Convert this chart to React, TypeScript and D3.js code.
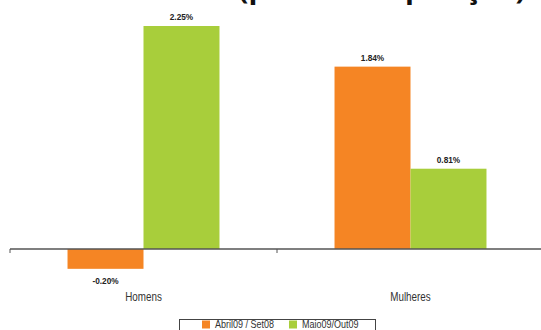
import React from "react";
import * as d3 from "d3";

const categories = ["Homens", "Mulheres"];
const seriesNames = ["Abril09 / Set08", "Maio09/Out09"];
const abrilSet = [-0.2, 1.84];
const maioOut = [2.25, 0.81];
const colors = ["#F58524", "#A8CE3B"];
const title = "(por sexo e posição)";

const W = 541;
const H = 330;
const sans = "'Liberation Sans', Arial, sans-serif";

// Condensed-looking text: squeeze glyphs horizontally around their anchor point.
function Narrow({ x, y, sx = 0.82, children, ...rest }: any) {
  return (
    <text transform={`translate(${x},${y}) scale(${sx},1)`} fontFamily={sans} {...rest}>
      {children}
    </text>
  );
}

export default function App() {
  const x0 = d3.scaleBand<string>().domain(categories).range([10, 544]).paddingInner(0).paddingOuter(0);
  const x1 = d3.scaleBand<string>().domain(seriesNames).range([0, x0.bandwidth()]).paddingInner(0).paddingOuter(0.757);
  const y = d3.scaleLinear().domain([0, 2.25]).range([249, 26]);
  const series = [abrilSet, maioOut];
  const fmt = (v: number) => v.toFixed(2) + "%";

  return (
    <svg width={W} height={H} style={{ position: "absolute", left: 0, top: 0, background: "#fff" }}>
      <text x={382} y={-1} textAnchor="middle" fontFamily="'Open Sans', sans-serif" fontWeight="bold" fontSize={27} fill="#111" textLength={287} lengthAdjust="spacingAndGlyphs">
        {title}
      </text>
      {categories.map((c, ci) => (
        <g key={c} transform={`translate(${x0(c)},0)`}>
          {seriesNames.map((s, si) => {
            const v = series[si][ci];
            const bx = x1(s)!;
            const top = Math.min(y(v), y(0));
            const h = Math.abs(y(v) - y(0));
            const ly = v >= 0 ? y(v) - 6 : y(v) + 15;
            return (
              <g key={s}>
                <rect x={bx} y={top} width={x1.bandwidth()} height={h} fill={colors[si]} />
                <Narrow x={bx + x1.bandwidth() / 2} y={ly} sx={0.92} textAnchor="middle" fontWeight="bold" fontSize={9} fill="#222">
                  {fmt(v)}
                </Narrow>
              </g>
            );
          })}
          <Narrow x={x0.bandwidth() / 2} y={301} textAnchor="middle" fontSize={12} fill="#333">
            {c}
          </Narrow>
        </g>
      ))}
      <line x1={10} x2={W} y1={y(0)} y2={y(0)} stroke="#555" strokeWidth={1.5} />
      {[10, x0(categories[1])!].map((t) => (
        <line key={t} x1={t} x2={t} y1={y(0)} y2={y(0) + 4} stroke="#555" strokeWidth={1} />
      ))}
      <rect x={179.5} y={319.5} width={196} height={20} fill="#fff" stroke="#444" strokeWidth={1} />
      {seriesNames.map((s, i) => {
        const lx = i === 0 ? 202 : 289;
        return (
          <g key={s}>
            <rect x={lx} y={320.5} width={8} height={8} fill={colors[i]} />
            <Narrow x={lx + 13} y={327.5} sx={0.82} fontSize={11} fill="#333">
              {s}
            </Narrow>
          </g>
        );
      })}
    </svg>
  );
}
